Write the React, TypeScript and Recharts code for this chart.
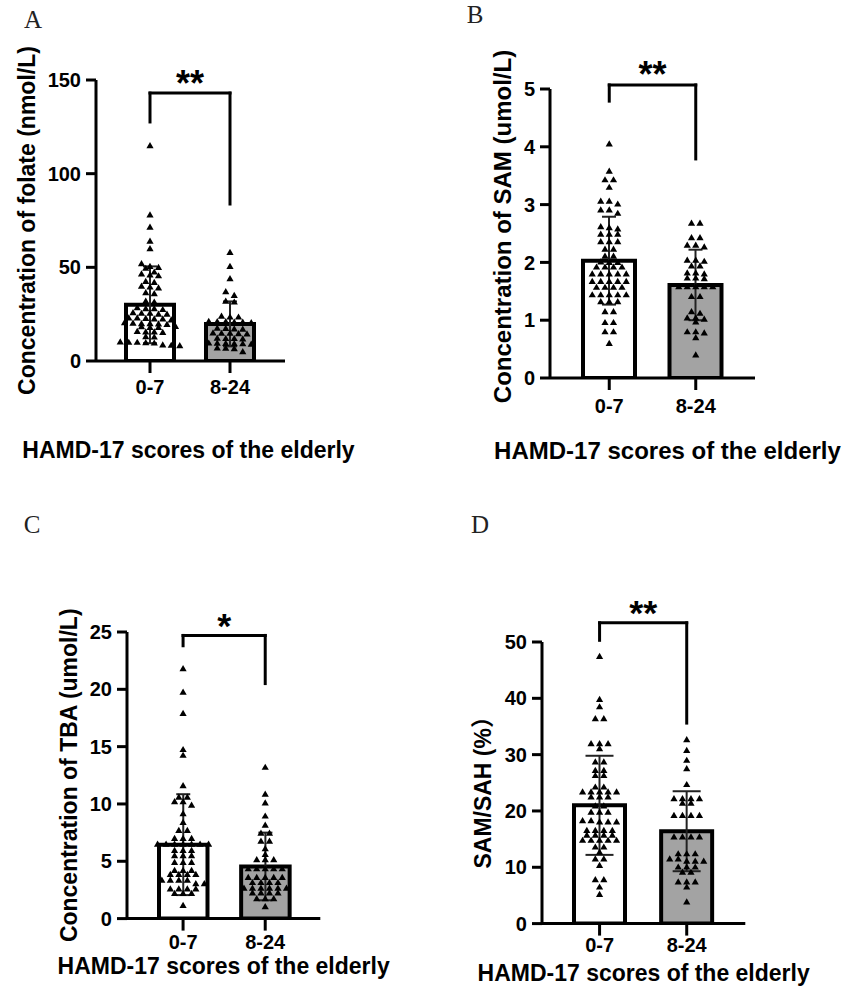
import React from 'react';
import { ComposedChart, Bar, Cell, Scatter, XAxis, YAxis, ErrorBar, ReferenceLine, Label } from 'recharts';

// HAMD-17 groups
const groups = ['0-7', '8-24'];
const xTitle = 'HAMD-17 scores of the elderly';

// A: folate (nmol/L)
const folateLow = [115, 78, 71.5, 64, 60, 52, 50.5, 50, 49.5, 47.5, 46.5, 46, 45.5, 42.5, 42, 40, 39.5, 39, 36.5, 36,
  32, 31.5, 28.5, 28, 28, 27.5, 25.8, 25.5, 25.5, 25, 25, 23, 23, 22.8, 22.5, 22.5, 22, 20.5, 20.2, 20, 20, 19.8,
  19.5, 18.5, 18.3, 18, 18, 15.8, 15.6, 15.5, 15.3, 13, 12.8, 10.2, 10, 10, 9.8, 9.6, 8.6, 8.4, 8.2];
const folateHigh = [58, 50.5, 44, 37, 35, 32, 31.5, 24, 23.5, 23.5, 21.2, 21, 21, 20.8, 20.8, 20.5, 17.5, 17.4, 17.2,
  17, 15, 14.8, 14.8, 14.6, 14.5, 12.2, 12, 12, 11.8, 9.6, 9.5, 9.4, 9.3, 9.2, 9, 7, 6.8, 6.6, 5];
const folateMean = [30, 19.8];
const folateSd = [20.5, 12];

// B: SAM (umol/L)
const samLow = [4.05, 3.58, 3.43, 3.43, 3.3, 3.06, 3.06, 3.01, 2.91, 2.91, 2.85, 2.62, 2.6, 2.58, 2.49, 2.49, 2.49,
  2.36, 2.36, 2.36, 2.23, 2.23, 2.11, 2.11, 2.01, 2.0, 2.0, 1.92, 1.92, 1.92, 1.92, 1.8, 1.8, 1.8, 1.8, 1.8, 1.67,
  1.67, 1.67, 1.67, 1.67, 1.57, 1.57, 1.57, 1.57, 1.44, 1.44, 1.44, 1.44, 1.44, 1.32, 1.32, 1.32, 1.15, 1.15, 0.96,
  0.96, 0.8, 0.8, 0.6];
const samHigh = [2.68, 2.68, 2.43, 2.43, 2.3, 2.3, 2.27, 2.04, 2.04, 2.02, 1.94, 1.94, 1.82, 1.82, 1.8, 1.73, 1.73,
  1.72, 1.58, 1.58, 1.58, 1.58, 1.58, 1.41, 1.41, 1.15, 1.12, 1.04, 1.04, 1.02, 0.97, 0.8, 0.8, 0.78, 0.7, 0.4];
const samMean = [2.03, 1.61];
const samSd = [0.76, 0.61];

// C: TBA (umol/L)
const tbaLow = [21.8, 19.75, 17.9, 14.75, 14.25, 11.6, 10.6, 10.6, 10.2, 10.2, 9.9, 9.15, 8.4, 7.7, 7.7, 7, 7, 7,
  6.5, 6.5, 6.5, 6.5, 6.5, 6.5, 6.5, 5.95, 5.95, 5.95, 5.5, 5.5, 5.5, 4.9, 4.9, 4.9, 4.2, 4.2, 4.2, 3.85, 3.85, 3.85,
  3.85, 3.35, 3.35, 3.35, 3.35, 3.05, 3.05, 2.6, 2.6, 2.6, 2.6, 2.2, 2.2, 2.2, 1.15];
const tbaHigh = [13.2, 10.85, 10.1, 8.95, 8.15, 7.45, 7.45, 6.75, 6.75, 6.1, 5.6, 5.15, 5.15, 5.15, 4.35, 4.35, 4.35,
  4.35, 4.35, 3.6, 3.6, 3.6, 3.6, 3.6, 3.15, 3.15, 3.15, 3.15, 2.65, 2.65, 2.65, 2.65, 2.65, 2.65, 2.25, 2.25, 2.25,
  2.25, 1.75, 1.75, 1.75, 1.05];
const tbaMean = [6.45, 4.55];
const tbaSd = [4.4, 2.95];

// D: SAM/SAH (%)
const ratioLow = [47.45, 39.8, 38.5, 36.4, 36.4, 31.95, 31.95, 31.95, 31.05, 28.7, 28.7, 27.2, 27.2, 26.3, 26.3,
  24.25, 24.25, 23.4, 23.4, 23.4, 23.4, 23.4, 22.5, 22.5, 22.5, 20.9, 20.9, 19.8, 19.8, 19.8, 18.3, 18.3, 18.05,
  18.05, 18.05, 16.55, 16.55, 16.55, 16.55, 15.7, 15.7, 15.7, 15.7, 14.8, 14.8, 14.8, 14.8, 14.8, 13.6, 13.6, 12.7,
  11.5, 11.5, 10.35, 7.8, 7.8, 6.5, 5.2];
const ratioHigh = [32.65, 30.75, 29, 27.5, 24.7, 22.2, 22.2, 22.2, 22.2, 21.4, 21.4, 19.2, 19.2, 19.2, 19.2, 15.4,
  15.4, 15.4, 15.4, 12.4, 12.4, 12.4, 11.5, 11.5, 11.1, 11.1, 11.1, 10.05, 10.05, 10.05, 9.15, 9.15, 7.4, 7.4, 7.4,
  6.5, 3.85];
const ratioMean = [21, 16.4];
const ratioSd = [8.8, 7.1];

const YW = 100;
const MT = 70;
const MR = 100;
const XH = 110;
const SPACING = 8.5;
const ROW_PX = 4;

// GraphPad-like column scatter: points close in y share a row, spread around the centre
function swarm(values: number[], unitsPerPx: number) {
  const order = values.map((_, i) => i).sort((a, b) => values[b] - values[a]);
  const dx = new Array(values.length).fill(0);
  let row: number[] = [];
  let rowTop = 0;
  const flush = () => {
    row.forEach((idx, k) => {
      dx[idx] = (k - (row.length - 1) / 2) * SPACING;
    });
  };
  for (const idx of order) {
    if (row.length && (rowTop - values[idx]) / unitsPerPx > ROW_PX) {
      flush();
      row = [];
    }
    if (!row.length) rowTop = values[idx];
    row.push(idx);
  }
  flush();
  return dx;
}

const Tri = (p: any) => {
  const x = p.cx + (p.payload?.dx ?? 0);
  const y = p.cy;
  return <polygon points={`${x},${y - 3.6} ${x - 3.6},${y + 2.6} ${x + 3.6},${y + 2.6}`} fill="#000" />;
};

interface PanelCfg {
  letter: string;
  letterAt: [number, number];
  low: number[];
  high: number[];
  mean: number[];
  sd: number[];
  ticks: number[];
  yLabel: string;
  stars: string;
  bracket: number[];
  plot: { l: number; t: number; r: number; b: number };
  pad: [number, number];
  barSize: number;
  tickGap: number;
  titleDy: number;
  titleDx: number;
  yLabDx: number;
  yLabDy: number;
  capW: number;
  font: number;
}

const panels: PanelCfg[] = [
  {
    letter: 'A', letterAt: [33, 20], low: folateLow, high: folateHigh, mean: folateMean, sd: folateSd,
    ticks: [0, 50, 100, 150], yLabel: 'Concentration of folate (nmol/L)', stars: '**', bracket: [143, 127.6, 83.8],
    plot: { l: 96, t: 80, r: 285, b: 361 }, pad: [14, 15], barSize: 48, tickGap: 7, titleDy: 89, titleDx: -2,
    yLabDx: 69, yLabDy: 0, capW: 7, font: 23,
  },
  {
    letter: 'B', letterAt: [475, 15], low: samLow, high: samHigh, mean: samMean, sd: samSd,
    ticks: [0, 1, 2, 3, 4, 5], yLabel: 'Concentration of SAM (umol/L)', stars: '**', bracket: [5.07, 4.79, 3.79],
    plot: { l: 550, t: 89.3, r: 755, b: 378.3 }, pad: [16, 16], barSize: 52, tickGap: 8.5, titleDy: 72, titleDx: 15,
    yLabDx: 48, yLabDy: -7, capW: 7, font: 24,
  },
  {
    letter: 'C', letterAt: [32, 525], low: tbaLow, high: tbaHigh, mean: tbaMean, sd: tbaSd,
    ticks: [0, 5, 10, 15, 20, 25], yLabel: 'Concentration of TBA (umol/L)', stars: '*', bracket: [24.7, 23.8, 20.5],
    plot: { l: 126.7, t: 631.7, r: 320, b: 918.3 }, pad: [15, 14], barSize: 48.5, tickGap: 4, titleDy: 47, titleDx: 0,
    yLabDx: 58.7, yLabDy: 0, capW: 7, font: 23,
  },
  {
    letter: 'D', letterAt: [480, 525], low: ratioLow, high: ratioHigh, mean: ratioMean, sd: ratioSd,
    ticks: [0, 10, 20, 30, 40, 50], yLabel: 'SAM/SAH (%）', stars: '**', bracket: [53.4, 50.3, 35.6],
    plot: { l: 541.7, t: 641.7, r: 745, b: 923.3 }, pad: [14, 15], barSize: 51, tickGap: 2.5, titleDy: 49, titleDx: 0,
    yLabDx: 59.7, yLabDy: 4, capW: 14, font: 23,
  },
];

const axisStroke = { stroke: '#000', strokeWidth: 3 };
const tickFont = { fill: '#000', fontSize: 20, fontWeight: 'bold' as const };

function Panel({ cfg }: { cfg: PanelCfg }) {
  const { plot } = cfg;
  const plotH = plot.b - plot.t;
  const plotW = plot.r - plot.l;
  const top = cfg.ticks[cfg.ticks.length - 1];
  const unitsPerPx = top / plotH;
  const bars = groups.map((g, i) => ({ cat: g, mean: cfg.mean[i], sd: cfg.sd[i] }));
  const pts = [cfg.low, cfg.high].flatMap((vals, gi) => {
    const dx = swarm(vals, unitsPerPx);
    return vals.map((v, k) => ({ cat: groups[gi], v, dx: dx[k] }));
  });
  const [hy, ly, ry] = cfg.bracket;
  const line = { stroke: '#000', strokeWidth: 3, strokeLinecap: 'square' as const, ifOverflow: 'visible' as const };

  return (
    <div style={{ position: 'absolute', left: plot.l - YW, top: plot.t - MT }}>
      <ComposedChart
        width={YW + plotW + MR}
        height={MT + plotH + XH}
        data={bars}
        margin={{ top: MT, right: MR, bottom: 0, left: 0 }}
      >
        <XAxis
          dataKey="cat"
          type="category"
          allowDuplicatedCategory={false}
          padding={{ left: cfg.pad[0], right: cfg.pad[1] }}
          height={XH}
          interval={0}
          tickSize={12}
          tickMargin={cfg.tickGap}
          axisLine={axisStroke}
          tickLine={axisStroke}
          tick={tickFont}
        >
          <Label
            content={() => (
              <text
                x={YW + plotW / 2 + cfg.titleDx}
                y={MT + plotH + cfg.titleDy}
                dy="0.36em"
                textAnchor="middle"
                fontSize={cfg.font}
                fontWeight="bold"
                fill="#000"
              >
                {xTitle}
              </text>
            )}
          />
        </XAxis>
        <YAxis
          type="number"
          domain={[0, top]}
          ticks={cfg.ticks}
          interval={0}
          width={YW}
          tickSize={10}
          tickMargin={5}
          axisLine={axisStroke}
          tickLine={axisStroke}
          tick={tickFont}
          allowDataOverflow
        >
          <Label
            content={() => {
              const cx = YW - cfg.yLabDx;
              const cy = MT + plotH / 2 + cfg.yLabDy;
              return (
                <text
                  x={cx}
                  y={cy}
                  dy="0.36em"
                  textAnchor="middle"
                  transform={`rotate(-90, ${cx}, ${cy})`}
                  fontSize={cfg.font}
                  fontWeight="bold"
                  fill="#000"
                >
                  {cfg.yLabel}
                </text>
              );
            }}
          />
        </YAxis>
        <Bar dataKey="mean" barSize={cfg.barSize} stroke="#000" strokeWidth={4} isAnimationActive={false}>
          {groups.map((g, i) => (
            <Cell key={g} fill={i === 0 ? '#ffffff' : '#a3a3a3'} />
          ))}
          <ErrorBar dataKey="sd" width={cfg.capW} stroke="#222" strokeWidth={2} direction="y" />
        </Bar>
        <Scatter data={pts} dataKey="v" shape={Tri} isAnimationActive={false} />
        <ReferenceLine segment={[{ x: groups[0], y: ly }, { x: groups[0], y: hy }]} {...line} />
        <ReferenceLine
          segment={[{ x: groups[0], y: hy }, { x: groups[1], y: hy }]}
          {...line}
          label={(p: any) => (
            <text
              x={p.viewBox.x + p.viewBox.width / 2}
              y={p.viewBox.y + 2.5}
              textAnchor="middle"
              fontSize={36}
              fontWeight="bold"
              fill="#000"
            >
              {cfg.stars}
            </text>
          )}
        />
        <ReferenceLine segment={[{ x: groups[1], y: hy }, { x: groups[1], y: ry }]} {...line} />
      </ComposedChart>
    </div>
  );
}

export default function App() {
  return (
    <div
      style={{
        position: 'absolute',
        left: 0,
        top: 0,
        width: 844,
        height: 999,
        overflow: 'hidden',
        background: '#fff',
        fontFamily: '"Liberation Sans", Arial, "Noto Sans CJK SC", sans-serif',
      }}
    >
      {panels.map((cfg) => (
        <React.Fragment key={cfg.letter}>
          <div
            style={{
              position: 'absolute',
              left: cfg.letterAt[0] - 15,
              top: cfg.letterAt[1] - 13,
              width: 30,
              textAlign: 'center',
              fontFamily: '"Liberation Serif", serif',
              fontSize: 25,
              lineHeight: 1,
              color: '#222',
            }}
          >
            {cfg.letter}
          </div>
          <Panel cfg={cfg} />
        </React.Fragment>
      ))}
    </div>
  );
}
